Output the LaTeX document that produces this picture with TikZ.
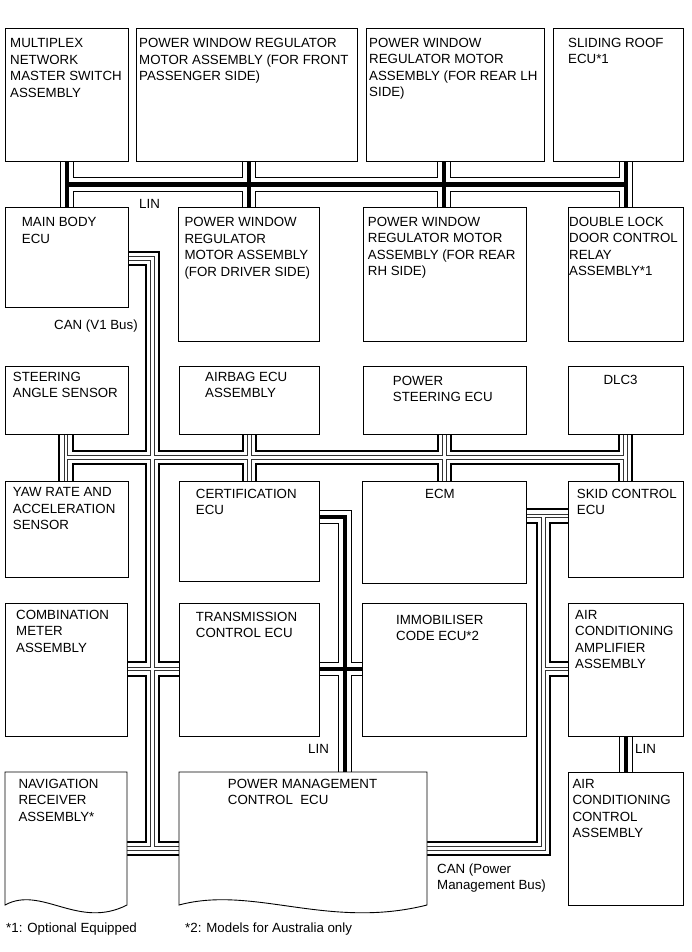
\documentclass[tikz,border=0pt]{standalone}
\usepackage{fontspec}
\setmainfont{Liberation Sans}
\pgfdeclarelayer{bg}
\pgfsetlayers{bg,main}
\newcommand\canbus[1]{%
  \draw[line width=15.6pt,black] #1;
  \draw[line width=11.6pt,white] #1;
  \draw[line width=4.4pt,black!80] #1;
  \draw[line width=2.4pt,white] #1;}
\newcommand\linbus[1]{%
  \draw[line width=14pt,black] #1;
  \draw[line width=12pt,white] #1;
  \draw[line width=4pt,black] #1;}
\newcommand\tl[1]{\begin{tabular}[t]{@{}l@{}}#1\end{tabular}}
\newcommand\ebox[5]{\node[ecubox, minimum width={(#4-#2)*1pt}, minimum height={(#5-#3)*1pt}] (#1) at (#2,#3) {};}
\begin{document}
\begin{tikzpicture}[x=1pt,y=-1pt,line join=miter,line cap=butt,
  ecubox/.style={draw=black,line width=0.9pt,fill=white,inner sep=0pt,outer sep=0pt,anchor=north west},
  docline/.style={draw=black,line width=0.9pt,fill=white},
  txt/.style={anchor=base west,inner sep=0pt,font=\fontsize{13.3}{16.5}\selectfont}]
\useasboundingbox (0,0) rectangle (691,952);
\begin{pgfonlayer}{bg}
\fill[white] (0,0) rectangle (691,952);
% LIN bus (top)
\linbus{(66.5,158) -- (66.5,210) (625.5,158) -- (625.5,210) (249,158) -- (249,210) (444,158) -- (444,210) (66.5,184.5) -- (625.5,184.5)}
% CAN V1 bus
\canbus{(124,258.5) -- (152.5,258.5) -- (152.5,848.5) (66,431) -- (66,484) (249.5,431) -- (249.5,484) (444.5,431) -- (444.5,484) (625.5,431) -- (625.5,484) (66,457.5) -- (625.5,457.5) (124,669) -- (182,669) (124,848.5) -- (182,848.5)}
% CAN power management bus
\canbus{(523,516) -- (571,516) (543.5,516) -- (543.5,848.5) -- (424,848.5) (543.5,669) -- (571,669)}
% LIN certification - power management
\linbus{(316,516.5) -- (344.5,516.5) -- (344.5,775) (316,669) -- (365,669)}
% LIN air conditioning
\linbus{(625.5,733) -- (625.5,775)}
\end{pgfonlayer}
% boxes
\ebox{mpx}{5}{28}{128}{161}
\ebox{pwfp}{136}{28}{357}{161}
\ebox{pwrl}{366}{28}{544}{161}
\ebox{sroof}{553}{28}{683}{161}
\ebox{mbody}{5}{207}{128}{307}
\ebox{pwd}{178}{207}{319}{341}
\ebox{pwrr}{363}{207}{526}{341}
\ebox{dlock}{568}{207}{683}{341}
\ebox{steer}{5}{366}{128}{434}
\ebox{airbag}{179}{366}{319}{434}
\ebox{pster}{363}{366}{526}{434}
\ebox{dlc}{568}{366}{683}{434}
\ebox{yaw}{5}{481}{128}{577}
\ebox{cert}{179}{481}{319}{581}
\ebox{ecm}{362}{481}{526}{583}
\ebox{skid}{568}{481}{683}{577}
\ebox{comb}{5}{603}{127}{736}
\ebox{trans}{179}{603}{319}{736}
\ebox{immo}{362}{603}{526}{736}
\ebox{acamp}{568}{603}{683}{736}
\ebox{acctl}{568}{772}{683}{905}
\draw[docline] (5,772) -- (127,772) -- (127,905) .. controls (78.2,930) and (41.6,885) .. (5,905) -- cycle;
\draw[docline] (179,772) -- (427,772) -- (427,905) .. controls (327.8,930) and (253.4,885) .. (179,905) -- cycle;
% texts
\node[txt] (tmpx) at (10,48) {\tl{MULTIPLEX\\NETWORK\\MASTER SWITCH\\ASSEMBLY}};
\node[txt] (tpwfp) at (139,48) {\tl{POWER WINDOW REGULATOR\\MOTOR ASSEMBLY (FOR FRONT\\PASSENGER SIDE)}};
\node[txt] (tpwrl) at (369,47.5) {\tl{POWER WINDOW\\REGULATOR MOTOR\\ASSEMBLY (FOR REAR LH\\SIDE)}};
\node[txt] (tsroof) at (568,47.5) {\tl{SLIDING ROOF\\ECU*1}};
\node[txt] (tmbody) at (21.7,226.7) {\tl{MAIN BODY\\ECU}};
\node[txt] (tpwd) at (184.3,226.7) {\tl{POWER WINDOW\\REGULATOR\\MOTOR ASSEMBLY\\(FOR DRIVER SIDE)}};
\node[txt] (tpwrr) at (367.7,226) {\tl{POWER WINDOW\\REGULATOR MOTOR\\ASSEMBLY (FOR REAR\\RH SIDE)}};
\node[txt] (tdlock) at (569,226) {\tl{DOUBLE LOCK\\DOOR CONTROL\\RELAY\\ASSEMBLY*1}};
\node[txt] (tsteer) at (12.7,381) {\tl{STEERING\\ANGLE SENSOR}};
\node[txt] (tairbag) at (205,381) {\tl{AIRBAG ECU\\ASSEMBLY}};
\node[txt] (tpster) at (392.7,385) {\tl{POWER\\STEERING ECU}};
\node[txt] (tdlc) at (603.3,384) {DLC3};
\node[txt] (tyaw) at (12.7,496.7) {\tl{YAW RATE AND\\ACCELERATION\\SENSOR}};
\node[txt] (tcert) at (195.7,498.3) {\tl{CERTIFICATION\\ECU}};
\node[txt] (tecm) at (425,498.3) {ECM};
\node[txt] (tskid) at (576.7,498) {\tl{SKID CONTROL\\ECU}};
\node[txt] (tcomb) at (16,619.3) {\tl{COMBINATION\\METER\\ASSEMBLY}};
\node[txt] (ttrans) at (195.7,621) {\tl{TRANSMISSION\\CONTROL ECU}};
\node[txt] (timmo) at (396,624) {\tl{IMMOBILISER\\CODE ECU*2}};
\node[txt] (tacamp) at (575,619.3) {\tl{AIR\\CONDITIONING\\AMPLIFIER\\ASSEMBLY}};
\node[txt] (tnav) at (18.3,788.3) {\tl{NAVIGATION\\RECEIVER\\ASSEMBLY*}};
\node[txt] (tpm) at (227.7,788.3) {\tl{POWER MANAGEMENT\\CONTROL\ \ ECU}};
\node[txt] (tacctl) at (572.3,788.3) {\tl{AIR\\CONDITIONING\\CONTROL\\ASSEMBLY}};
% bus labels
\node[txt] (llin1) at (139,208) {LIN};
\node[txt] (lcanv1) at (54,329) {CAN (V1 Bus)};
\node[txt] (llin2) at (308,753) {LIN};
\node[txt] (llin3) at (635,753) {LIN};
\node[txt] (lcanpm) at (437,873) {\tl{CAN (Power\\Management Bus)}};
% footnotes
\node[txt] (fn1) at (6,932) {*1: Optional Equipped};
\node[txt] (fn2) at (185,932) {*2: Models for Australia only};
\end{tikzpicture}
\end{document}
